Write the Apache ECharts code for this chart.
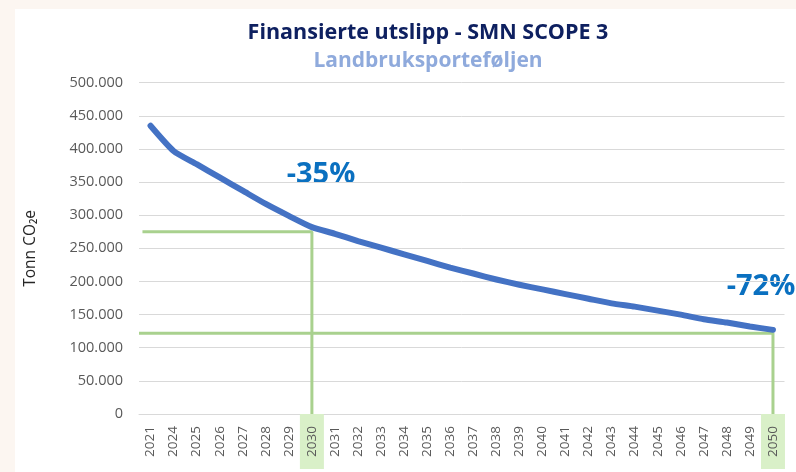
<!DOCTYPE html>
<html>
<head>
<meta charset="utf-8">
<script src="https://cdn.jsdelivr.net/npm/echarts@6/dist/echarts.min.js"></script>
<style>
  html, body { margin: 0; padding: 0; background: #fcf6f1; }
  #chart { position: absolute; left: 15px; top: 9px; width: 781px; height: 463px; background: #ffffff; }
</style>
</head>
<body>
<div id="chart"></div>
<script>
  // data (tonn CO2e)
  const years = ['2021', '2024', '2025', '2026', '2027', '2028', '2029', '2030', '2031', '2032',
    '2033', '2034', '2035', '2036', '2037', '2038', '2039', '2040', '2041', '2042',
    '2043', '2044', '2045', '2046', '2047', '2048', '2049', '2050'];
  const emissions = [435000, 397000, 377000, 357000, 337000, 317000, 299000, 282000, 272000, 261000,
    251000, 241000, 231000, 221000, 212000, 203000, 195000, 188000, 181000, 174000,
    167000, 162000, 156000, 150000, 143000, 138000, 132000, 127000];
  const highlightYears = ['2030', '2050'];
  const guide2030 = [[-0.35, 275000], [7, 275000], [7, 0]];
  const guide2050 = [[-0.5, 122000], [27, 122000], [27, 0]];
  const notes = ['-35%', '-72%'];

  const chart = echarts.init(document.getElementById('chart'));

  function fmtThousands(v) {
    return String(v).replace(/\B(?=(\d{3})+(?!\d))/g, '.');
  }

  const option = {
    animation: false,
    textStyle: { fontFamily: 'Open Sans' },
    title: [
      {
        text: 'Finansierte utslipp - SMN SCOPE 3',
        left: 408, top: 8, textAlign: 'center',
        textStyle: { fontFamily: 'Open Sans', fontWeight: 'bold', fontSize: 21.5, color: '#0e2060' }
      },
      {
        text: 'Landbruksporteføljen',
        left: 408, top: 37, textAlign: 'center',
        textStyle: { fontFamily: 'Open Sans', fontWeight: 'bold', fontSize: 21, color: '#8faadc' }
      }
    ],
    grid: { left: 123.5, right: 11.5, top: 73.7, bottom: 58 },
    xAxis: [
      {
        type: 'category',
        data: years,
        boundaryGap: true,
        axisLine: { lineStyle: { color: '#d9d9d9' } },
        axisTick: { show: false },
        axisLabel: {
          interval: 0,
          rotate: 90,
          margin: 0,
          formatter: function (v) {
            return highlightYears.indexOf(v) >= 0 ? '{hl|' + v + '}' : '{n|' + v + '}';
          },
          rich: {
            n: { fontSize: 13.5, color: '#595959', lineHeight: 14, padding: [5, 12, 5, 12] },
            hl: { fontSize: 13.5, color: '#595959', lineHeight: 14, padding: [5, 12, 5, 12], backgroundColor: '#d9f0c8' }
          }
        }
      },
      { type: 'value', min: -0.5, max: 27.5, show: false }
    ],
    yAxis: {
      type: 'value',
      min: 0, max: 500000, interval: 50000,
      name: 'Tonn CO₂e',
      nameLocation: 'middle',
      nameGap: 100,
      nameTextStyle: { fontSize: 15.5, color: '#262626' },
      axisLine: { show: false },
      axisTick: { show: false },
      axisLabel: { fontSize: 14.5, color: '#595959', margin: 16, formatter: fmtThousands },
      splitLine: { lineStyle: { color: '#d9d9d9' } }
    },
    series: [
      {
        type: 'line', xAxisIndex: 1, data: guide2030, symbol: 'none',
        lineStyle: { color: '#a9d18e', width: 3 }, z: 1
      },
      {
        type: 'line', xAxisIndex: 1, data: guide2050, symbol: 'none',
        lineStyle: { color: '#a9d18e', width: 3 }, z: 1
      },
      {
        type: 'line', data: emissions, smooth: 0.2, symbol: 'none',
        lineStyle: { color: '#4472c4', width: 6, cap: 'round', join: 'round' }, z: 3
      }
    ],
    graphic: [
      { type: 'text', x: 306, y: 166, style: { text: notes[0], fontFamily: 'Open Sans', fontWeight: 'bold', fontSize: 29, fill: '#0a70c0', align: 'center', verticalAlign: 'middle' } },
      { type: 'text', x: 746, y: 278, style: { text: notes[1], fontFamily: 'Open Sans', fontWeight: 'bold', fontSize: 29, fill: '#0a70c0', align: 'center', verticalAlign: 'middle' } }
    ]
  };

  chart.setOption(option);
</script>
</body>
</html>
